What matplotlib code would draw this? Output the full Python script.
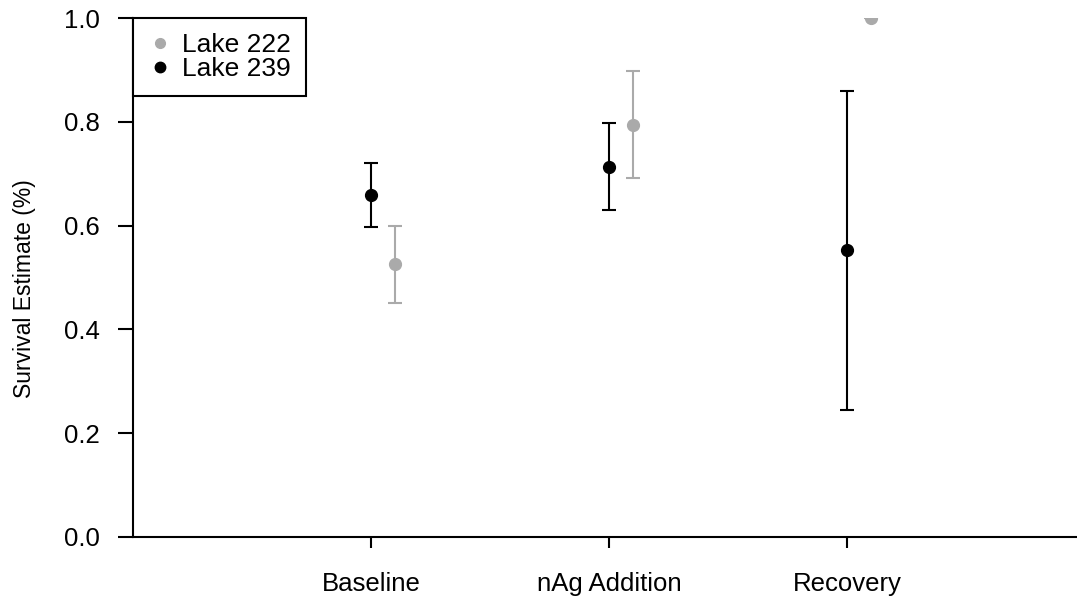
import matplotlib
matplotlib.use("Agg")
import matplotlib.pyplot as plt
from matplotlib.lines import Line2D

plt.rcParams['font.family'] = ['Liberation Sans', 'DejaVu Sans']

categories = ["Baseline", "nAg Addition", "Recovery"]
lake239_est = [0.659, 0.713, 0.553]
lake239_lo = [0.597, 0.630, 0.245]
lake239_hi = [0.720, 0.798, 0.860]
lake222_est = [0.526, 0.794, 1.0]
lake222_lo = [0.451, 0.692, 1.0]
lake222_hi = [0.600, 0.898, 1.0]
yticks = [0.0, 0.2, 0.4, 0.6, 0.8, 1.0]

grey = "#AAAAAA"
W, H = 1077, 601
fig = plt.figure(figsize=(W / 100, H / 100), dpi=100)
left, bottom = 133 / W, 1 - 537 / H
top = 1 - 18 / H
ax = fig.add_axes([left, bottom, (1085 - 133) / W, top - bottom])

x = [1, 2, 3]
x222 = [v + 0.1 for v in x]

def err(est, lo, hi):
    return [[e - l for e, l in zip(est, lo)], [h - e for e, h in zip(est, hi)]]

ax.errorbar(x222, lake222_est, yerr=err(lake222_est, lake222_lo, lake222_hi),
            fmt='o', color=grey, ms=8.5, elinewidth=1.5, capsize=5, capthick=1.5)
ax.errorbar(x, lake239_est, yerr=err(lake239_est, lake239_lo, lake239_hi),
            fmt='o', color='black', ms=8.5, elinewidth=1.5, capsize=5, capthick=1.5)

ax.set_xlim(0, 4)
ax.set_ylim(0, 1)
for s in ['top', 'right']:
    ax.spines[s].set_visible(False)
for s in ['left', 'bottom']:
    ax.spines[s].set_linewidth(1.5)
ax.set_xticks(x)
ax.set_xticklabels(categories, fontsize=18.5)
ax.set_yticks(yticks)
ax.set_yticklabels([f"{t:.1f}" for t in yticks], fontsize=18.5)
ax.tick_params(axis='y', length=11, width=1.5, pad=13)
ax.tick_params(axis='x', length=8, width=1.5, pad=17)
ax.set_ylabel("Survival Estimate (%)", fontsize=16.5)
ax.yaxis.set_label_coords(-(133 - 36) / 952, 0.479)

handles = [Line2D([], [], marker='o', ls='none', color=grey, ms=7),
           Line2D([], [], marker='o', ls='none', color='black', ms=7.5)]
leg = ax.legend(handles, ["Lake 222", "Lake 239"], loc='upper left',
                bbox_to_anchor=(0, 1), borderaxespad=0, prop={'size': 19},
                fancybox=False, edgecolor='black', framealpha=1,
                handlelength=0.92, handletextpad=0.38, labelspacing=0.0,
                borderpad=0.57)
leg.get_frame().set_linewidth(1.5)

fig.savefig("out.png", dpi=100)
